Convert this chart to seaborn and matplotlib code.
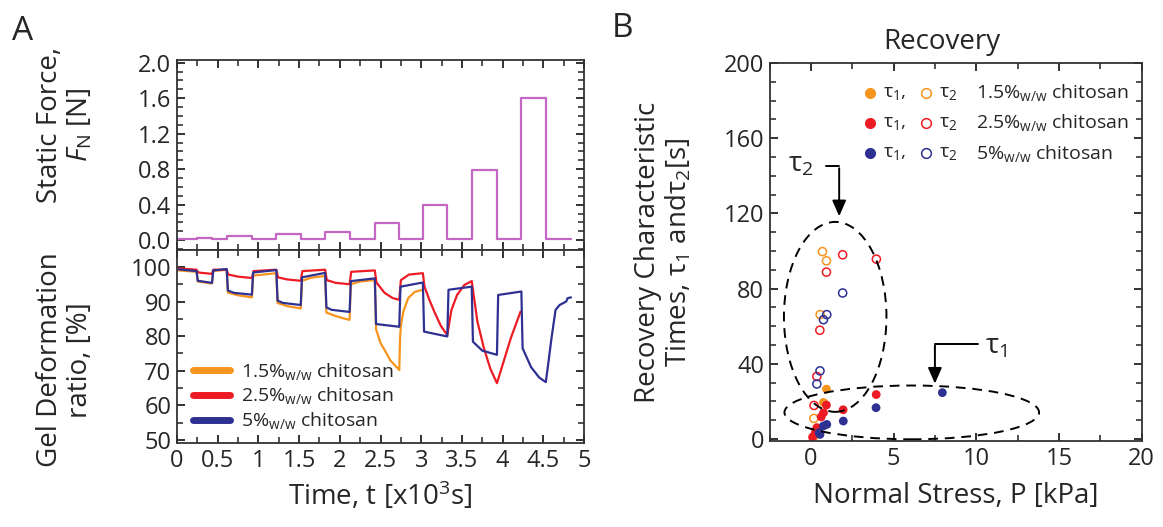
import numpy as np
import pandas as pd
import matplotlib
matplotlib.use("Agg")
import matplotlib.pyplot as plt
import seaborn as sns
from matplotlib.patches import Ellipse
from matplotlib.lines import Line2D
from matplotlib.ticker import MultipleLocator

# ---- style ----
sns.set_theme(style="ticks")
plt.rcParams['font.family'] = ['Open Sans', 'DejaVu Sans']
plt.rcParams['mathtext.fontset'] = 'custom'
plt.rcParams['mathtext.rm'] = 'Open Sans'
plt.rcParams['mathtext.it'] = 'Open Sans:italic'
plt.rcParams['mathtext.bf'] = 'Open Sans:bold'

ORANGE = '#f7941d'
RED = '#ed1c24'
NAVY = '#2e3192'
PINK = '#c466c4'
FRAME = '#333333'

# ---- panel A, top: static force steps ----
force_t = [0, 0.24, 0.43, 0.61, 0.92, 1.22, 1.52, 1.82, 2.12, 2.43,
           2.73, 3.02, 3.32, 3.62, 3.93, 4.23, 4.53, 4.84]
force_N = [0.01, 0.025, 0.01, 0.045, 0.01, 0.07, 0.01, 0.09, 0.01, 0.19,
           0.01, 0.40, 0.01, 0.79, 0.01, 1.60, 0.01, 0.01]

# ---- panel A, bottom: gel deformation ratio ----
t_15 = [0.02, 0.24, 0.255, 0.43, 0.445, 0.61, 0.625, 0.75, 0.92, 0.935, 1.10, 1.22,
        1.235, 1.35, 1.52, 1.535, 1.65, 1.82, 1.835, 1.95, 2.05, 2.12, 2.135, 2.25, 2.43,
        2.445, 2.50, 2.55, 2.62, 2.73, 2.74, 2.75, 2.78, 2.84, 2.92, 3.02]
r_15 = [99.0, 98.6, 95.8, 95.2, 98.8, 99.2, 92.6, 91.8, 91.2, 97.5, 97.9, 98.2,
        89.6, 88.7, 88.0, 96.0, 96.9, 97.4, 86.8, 85.8, 85.1, 84.7, 95.0, 95.8, 96.2,
        82.0, 78.0, 76.0, 73.0, 70.2, 79.4, 83.0, 87.1, 91.0, 92.8, 93.4]

t_25 = [0.02, 0.24, 0.26, 0.43, 0.445, 0.61, 0.63, 0.75, 0.92, 0.94, 1.22,
        1.24, 1.35, 1.52, 1.54, 1.82, 1.84, 1.95, 2.12, 2.14, 2.43,
        2.45, 2.55, 2.65, 2.73, 2.75, 2.85, 3.02,
        3.04, 3.10, 3.16, 3.24, 3.32, 3.37, 3.44, 3.53, 3.62,
        3.69, 3.77, 3.85, 3.93, 4.01, 4.10, 4.22]
r_25 = [99.6, 99.2, 98.4, 98.0, 99.2, 99.2, 97.8, 97.2, 96.8, 98.8, 99.2,
        97.0, 96.4, 96.0, 98.8, 99.2, 96.2, 95.4, 95.0, 98.6, 99.0,
        95.5, 92.5, 91.0, 90.5, 96.2, 97.8, 98.2,
        94.3, 90.5, 87.1, 83.0, 80.3, 87.5, 91.9, 94.8, 95.9,
        84.2, 76.5, 70.5, 66.4, 72.5, 79.4, 87.1]

t_5 = [0.02, 0.24, 0.255, 0.43, 0.445, 0.61, 0.625, 0.70, 0.92, 0.935, 1.22,
       1.235, 1.30, 1.52, 1.535, 1.82, 1.835, 1.90, 2.12, 2.135, 2.43,
       2.445, 2.73, 2.745, 3.02, 3.035, 3.32, 3.335, 3.62,
       3.635, 3.75, 3.93, 3.945, 4.23, 4.245, 4.35, 4.45, 4.53,
       4.56, 4.60, 4.65, 4.70, 4.78, 4.80, 4.84]
r_5 = [99.3, 98.8, 96.0, 95.4, 99.0, 99.4, 93.2, 92.5, 92.0, 98.4, 99.1,
       90.3, 89.6, 89.0, 97.0, 98.3, 88.3, 87.6, 87.0, 95.9, 96.7,
       83.5, 82.7, 94.3, 95.5, 81.3, 79.9, 93.4, 94.3,
       78.4, 75.8, 74.6, 91.9, 92.9, 76.5, 71.0, 68.0, 66.7,
       72.0, 79.4, 87.6, 89.0, 90.0, 91.0, 91.2]

samples = ['1.5%$_{\\mathrm{w/w}}$ chitosan',
           '2.5%$_{\\mathrm{w/w}}$ chitosan',
           '5%$_{\\mathrm{w/w}}$ chitosan']
sample_colors = [ORANGE, RED, NAVY]

# ---- panel B: recovery characteristic times ----
p_15_tau1 = [0.94, 0.76, 0.20]
tau1_15 = [26.6, 19.5, 1.5]
p_15_tau2 = [0.70, 0.94, 0.56, 0.18]
tau2_15 = [99.7, 94.8, 66.2, 11.0]

p_25_tau1 = [3.95, 1.95, 0.94, 0.76, 0.62, 0.36, 0.28, 0.10]
tau1_25 = [23.7, 15.6, 18.1, 14.0, 11.8, 6.1, 3.8, 1.0]
p_25_tau2 = [1.92, 3.96, 0.94, 0.54, 0.36, 0.19]
tau2_25 = [98.0, 95.7, 88.8, 57.9, 33.3, 17.9]

p_5_tau1 = [7.95, 3.94, 1.96, 0.96, 0.76, 0.55, 0.50]
tau1_5 = [24.7, 16.7, 9.6, 7.8, 7.0, 2.5, 3.4]
p_5_tau2 = [1.92, 0.96, 0.76, 0.55, 0.36]
tau2_5 = [77.7, 66.2, 63.5, 36.3, 29.3]

# ==========================================
fig = plt.figure(figsize=(11.63, 5.27), dpi=100)
ax1 = fig.add_axes([0.1522, 0.5256, 0.350, 0.3605])
ax2 = fig.add_axes([0.1522, 0.1594, 0.350, 0.3662])
ax3 = fig.add_axes([0.6617, 0.1632, 0.3199, 0.7173])


def style_axes(ax):
    for sp in ax.spines.values():
        sp.set_visible(True)
        sp.set_color(FRAME)
        sp.set_linewidth(1.3)
    ax.tick_params(which='both', direction='in', top=True, right=True,
                   bottom=True, left=True, color='#222222', labelsize=17, pad=4)
    ax.tick_params(which='major', length=6, width=1.3)
    ax.tick_params(which='minor', length=4, width=1.1)


# top panel
force_df = pd.DataFrame({'t': force_t, 'F': force_N})
sns.lineplot(data=force_df, x='t', y='F', drawstyle='steps-post', color=PINK,
             lw=1.6, estimator=None, sort=False, ax=ax1)
ax1.set_xlim(0, 5)
ax1.set_ylim(-0.11, 2.03)
ax1.xaxis.set_major_locator(MultipleLocator(0.5))
ax1.xaxis.set_minor_locator(MultipleLocator(0.25))
ax1.set_yticks([0, 0.4, 0.8, 1.2, 1.6, 2.0])
ax1.set_yticklabels(['0.0', '0.4', '0.8', '1.2', '1.6', '2.0'])
ax1.yaxis.set_minor_locator(MultipleLocator(0.1))
ax1.set_xticklabels([])
ax1.set_xlabel('')
ax1.set_ylabel('Static Force,\n$\\mathit{F}_{\\mathrm{N}}$ [N]', fontsize=20,
               va='center', ha='center', linespacing=1.1)
ax1.yaxis.set_label_coords(-0.275, 0.66)
style_axes(ax1)

# bottom panel
curves = pd.concat([
    pd.DataFrame({'t': t_15, 'ratio': r_15, 'sample': samples[0]}),
    pd.DataFrame({'t': t_25, 'ratio': r_25, 'sample': samples[1]}),
    pd.DataFrame({'t': t_5, 'ratio': r_5, 'sample': samples[2]}),
])
sns.lineplot(data=curves, x='t', y='ratio', hue='sample', palette=sample_colors,
             estimator=None, sort=False, lw=1.6, legend=False, ax=ax2)
ax2.set_xlim(0, 5)
ax2.set_ylim(49.1, 104.9)
ax2.set_xticks(np.arange(0, 5.01, 0.5))
ax2.set_xticklabels(['0', '0.5', '1', '1.5', '2', '2.5', '3', '3.5', '4', '4.5', '5'])
ax2.xaxis.set_minor_locator(MultipleLocator(0.25))
ax2.set_yticks([50, 60, 70, 80, 90, 100])
ax2.yaxis.set_minor_locator(MultipleLocator(5))
ax2.set_xlabel('Time, t [x10$^{3}$s]', fontsize=20, labelpad=5)
ax2.set_ylabel('Gel Deformation\nratio, [%]', fontsize=20,
               va='center', ha='center', linespacing=1.1)
ax2.yaxis.set_label_coords(-0.275, 0.43)
style_axes(ax2)
handles = [Line2D([], [], color=c, lw=5) for c in sample_colors]
ax2.legend(handles, samples, loc='lower left', frameon=False, fontsize=14,
           handlelength=1.9, handletextpad=0.6, labelspacing=0.2,
           borderaxespad=0.2, bbox_to_anchor=(0.01, 0.0))

# panel B
groups = [
    (p_15_tau1, tau1_15, p_15_tau2, tau2_15, ORANGE),
    (p_25_tau1, tau1_25, p_25_tau2, tau2_25, RED),
    (p_5_tau1, tau1_5, p_5_tau2, tau2_5, NAVY),
]
for p1, t1, p2, t2, c in groups:
    sns.scatterplot(x=p2, y=t2, s=34, color=c, edgecolor=c, linewidth=1.1, ax=ax3)
    ax3.collections[-1].set_facecolor('none')
    sns.scatterplot(x=p1, y=t1, s=40, color=c, edgecolor='none', ax=ax3)

ax3.add_patch(Ellipse((1.47, 65), 6.2, 101, fill=False, ec='black', lw=1.4,
                      ls=(0, (5, 3.5))))
ax3.add_patch(Ellipse((6.1, 14.2), 15.4, 28.6, fill=False, ec='black', lw=1.4,
                      ls=(0, (5, 3.5))))
ax3.annotate('', xy=(1.71, 117), xytext=(1.71, 145.5),
             arrowprops=dict(arrowstyle='-|>,head_length=0.8,head_width=0.35',
                             color='black', lw=1.4))
ax3.plot([0.9, 1.71], [145, 145], color='black', lw=1.4)
ax3.text(-0.6, 146, 'τ$_2$', fontsize=20, ha='center', va='center')
ax3.annotate('', xy=(7.5, 28), xytext=(7.5, 51.3),
             arrowprops=dict(arrowstyle='-|>,head_length=0.8,head_width=0.35',
                             color='black', lw=1.4))
ax3.plot([7.5, 10.1], [50.8, 50.8], color='black', lw=1.4)
ax3.text(11.2, 49, 'τ$_1$', fontsize=20, ha='center', va='center')

ax3.set_xlim(-2.5, 20)
ax3.set_ylim(-1, 200)
ax3.set_xticks([0, 5, 10, 15, 20])
ax3.xaxis.set_minor_locator(MultipleLocator(2.5))
ax3.set_yticks([0, 40, 80, 120, 160, 200])
ax3.yaxis.set_minor_locator(MultipleLocator(10))
ax3.set_xlabel('Normal Stress, P [kPa]', fontsize=20, labelpad=8)
ax3.set_ylabel('Recovery Characteristic\nTimes, τ$_1$ andτ$_2$[s]', fontsize=20,
               va='center', ha='center', linespacing=1.1)
ax3.yaxis.set_label_coords(-0.284, 0.5)
ax3.set_title('Recovery', fontsize=20, x=0.464, pad=10)
style_axes(ax3)

# legend of panel B built by hand
rows_y = [0.921, 0.842, 0.761]
for yy, c, lab in zip(rows_y, sample_colors, samples):
    ax3.plot([0.270], [yy], 'o', ms=7, color=c, mec=c, transform=ax3.transAxes, clip_on=False)
    ax3.text(0.305, yy, 'τ$_1$,', fontsize=14, va='center', transform=ax3.transAxes)
    ax3.plot([0.420], [yy], 'o', ms=7, mfc='none', mec=c, mew=1.1,
             transform=ax3.transAxes, clip_on=False)
    ax3.text(0.455, yy, 'τ$_2$', fontsize=14, va='center', transform=ax3.transAxes)
    ax3.text(0.555, yy, lab, fontsize=14, va='center', transform=ax3.transAxes)

fig.text(0.010, 0.924, 'A', fontsize=24)
fig.text(0.526, 0.930, 'B', fontsize=24)

plt.savefig('out.png', dpi=100)
